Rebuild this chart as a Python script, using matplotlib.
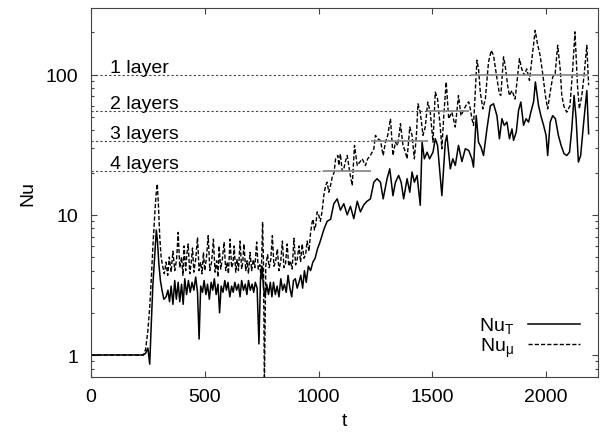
import numpy as np
import matplotlib
matplotlib.use("Agg")
import matplotlib.pyplot as plt

plt.rcParams["font.family"] = ["Liberation Sans", "DejaVu Sans"]
plt.rcParams["mathtext.fontset"] = "custom"
plt.rcParams["mathtext.rm"] = "Liberation Sans"
plt.rcParams["font.size"] = 14

# --- Nu_T (solid) ---
t_T = [0, 230, 240, 250, 258, 265, 272, 280, 287, 292, 298, 305, 312, 320, 330, 338, 345, 352,
       360, 368, 375, 383, 390, 398, 405, 412, 420, 428, 436, 444, 452, 460, 468, 475, 482, 490,
       497, 505, 512, 520, 528, 535, 542, 550, 558, 565, 572, 580, 588, 595, 602, 610, 618, 625,
       632, 640, 648, 655, 662, 670, 678, 685, 692, 700, 708, 715, 722, 730, 738, 745, 752, 758,
       765, 772, 780, 788, 795, 802, 810, 818, 826, 834, 842, 850, 858, 866, 874, 882, 890, 898,
       906, 914, 922, 930, 938, 946, 955, 965, 975, 985, 995, 1005, 1015, 1025, 1038, 1053, 1067,
       1082, 1096, 1111, 1126, 1140, 1155, 1170, 1184, 1199, 1213, 1228, 1243, 1257, 1272, 1284,
       1301, 1313, 1327, 1338, 1352, 1363, 1374, 1389, 1401, 1411, 1421, 1433, 1447, 1455, 1465,
       1477, 1488, 1503, 1513, 1523, 1542, 1557, 1564, 1579, 1590, 1601, 1615, 1630, 1645, 1660,
       1674, 1681, 1693, 1703, 1714, 1725, 1740, 1755, 1769, 1784, 1795, 1806, 1816, 1828, 1839,
       1850, 1857, 1869, 1879, 1889, 1901, 1912, 1923, 1933, 1945, 1953, 1967, 1977, 1989, 2000,
       2007, 2018, 2029, 2041, 2054, 2066, 2079, 2091, 2103, 2113, 2123, 2132, 2142, 2152, 2164,
       2179, 2187]
nu_T = [1.0, 1.0, 1.03, 1.12, 0.86, 1.7, 3.2, 5.2, 7.8, 6.5, 4.5, 3.4, 2.9, 2.5, 2.6, 2.9, 2.4, 3.1,
        2.3, 3.4, 2.5, 3.3, 2.4, 3.2, 2.3, 3.5, 2.7, 3.4, 2.8, 3.3, 2.9, 3.6, 2.8, 1.3, 3.1, 2.8,
        3.4, 2.7, 3.2, 2.5, 3.3, 2.9, 3.5, 2.7, 3.2, 2.0, 3.1, 2.8, 3.4, 2.9, 3.3, 2.6, 3.1, 2.8,
        3.3, 2.9, 3.2, 2.6, 3.4, 2.9, 3.2, 2.7, 3.4, 2.9, 3.2, 2.8, 3.3, 3.0, 1.2, 3.6, 4.3, 3.0,
        2.6, 3.2, 2.7, 3.3, 2.6, 3.3, 2.7, 3.1, 2.6, 3.5, 2.9, 3.2, 2.8, 3.7, 3.0, 2.6, 3.4, 3.5,
        3.0, 3.3, 3.7, 3.0, 4.0, 3.3, 4.3, 4.0, 4.6, 4.9, 5.7, 6.3, 7.1, 8.0, 9.0, 9.3, 12.0,
        13.0, 10.8, 12.0, 10.0, 11.5, 9.4, 12.5, 10.5, 11.8, 12.5, 13.0, 17.1, 18.1, 17.1, 13.0,
        18.1, 21.3, 13.7, 17.1, 19.1, 17.1, 13.0, 18.1, 14.5, 20.2, 17.1, 19.1, 11.7, 33.0, 25.1,
        28.0, 25.1, 28.0, 35.0, 31.3, 13.7, 33.0, 36.9, 21.3, 25.1, 22.5, 31.3, 24.0, 29.6, 28.8,
        25.1, 21.9, 51.0, 33.0, 30.4, 26.5, 41.0, 60.0, 62.0, 51.0, 34.9, 48.5, 43.5, 45.9, 34.9,
        41.0, 34.0, 39.0, 55.6, 63.8, 43.5, 48.5, 45.9, 54.0, 64.0, 88.7, 60.0, 51.0, 43.5, 36.9,
        26.5, 45.9, 51.0, 48.5, 36.9, 31.3, 27.3, 26.5, 28.0, 41.0, 71.0, 48.5, 23.8, 26.5, 43.5,
        77.0, 37.9]

# --- Nu_mu (dashed) ---
t_mu = [0, 230, 240, 250, 258, 265, 272, 280, 286, 291, 296, 302, 308, 315, 322, 330, 337, 344,
        352, 360, 368, 376, 383, 390, 398, 404, 409, 416, 421, 427, 434, 440, 446, 452, 460, 468,
        475, 482, 488, 494, 500, 507, 515, 522, 530, 538, 545, 552, 558, 563, 570, 577, 585, 592,
        598, 604, 611, 618, 624, 629, 636, 642, 648, 655, 662, 667, 672, 680, 686, 692, 699, 706,
        713, 720, 728, 735, 742, 748, 754, 758, 762, 768, 776, 783, 790, 797, 804, 811, 819, 826,
        834, 841, 848, 855, 862, 869, 876, 884, 892, 899, 906, 914, 921, 928, 936, 943, 950, 958,
        965, 972, 976, 982, 987, 994, 1001, 1008, 1016, 1023, 1031, 1038, 1045, 1052, 1060, 1068,
        1075, 1085, 1089, 1096, 1104, 1111, 1118, 1126, 1137, 1148, 1158, 1170, 1181, 1192, 1206,
        1216, 1228, 1243, 1250, 1260, 1272, 1284, 1294, 1304, 1316, 1327, 1338, 1348, 1360, 1371,
        1382, 1389, 1401, 1411, 1421, 1430, 1437, 1447, 1459, 1469, 1480, 1491, 1503, 1513, 1523,
        1535, 1542, 1550, 1561, 1572, 1586, 1601, 1615, 1626, 1640, 1652, 1660, 1667, 1674, 1681,
        1696, 1703, 1711, 1722, 1733, 1747, 1759, 1769, 1784, 1795, 1801, 1813, 1820, 1831, 1839,
        1850, 1864, 1883, 1893, 1904, 1915, 1927, 1937, 1952, 1962, 1974, 1986, 1997, 2007, 2018,
        2029, 2040, 2051, 2062, 2069, 2079, 2091, 2105, 2117, 2127, 2138, 2146, 2157, 2167, 2179,
        2187]
nu_mu = [1.0, 1.0, 1.1, 1.5, 2.2, 3.5, 6.0, 10.0, 14.0, 16.6, 12.0, 7.0, 5.0, 4.3, 3.8, 4.6, 3.7, 5.0,
         3.9, 5.5, 4.0, 4.8, 7.5, 4.2, 5.0, 3.7, 6.0, 4.0, 5.2, 6.2, 3.8, 4.5, 5.8, 3.9, 4.8, 6.9,
         4.0, 4.6, 3.8, 5.4, 4.0, 4.9, 7.1, 4.0, 4.6, 6.7, 3.9, 4.7, 3.6, 6.0, 4.1, 4.8, 6.4, 4.0,
         4.6, 3.8, 6.7, 4.2, 4.5, 6.0, 3.9, 4.8, 4.0, 6.5, 4.1, 4.6, 6.2, 4.0, 4.7, 3.8, 5.4, 4.0,
         4.8, 4.2, 6.4, 4.1, 4.4, 3.5, 8.9, 4.5, 0.6, 4.3, 5.2, 4.2, 4.8, 7.1, 4.3, 4.6, 5.7, 4.0,
         4.7, 6.5, 4.2, 4.5, 6.2, 4.3, 4.7, 4.1, 6.8, 4.4, 4.8, 6.0, 4.6, 6.2, 4.9, 5.2, 6.5, 5.5,
         7.5, 8.9, 9.3, 7.8, 8.3, 10.5, 9.9, 9.0, 10.7, 13.7, 16.2, 17.1, 14.5, 16.0, 18.6, 20.0,
         25.1, 26.5, 22.5, 27.2, 20.5, 21.3, 24.0, 26.5, 20.2, 16.2, 31.3, 22.5, 23.8, 25.1, 22.5,
         25.1, 26.5, 29.6, 36.9, 34.9, 34.0, 26.5, 33.0, 36.9, 48.5, 26.5, 33.0, 31.3, 44.7, 31.3,
         28.0, 25.1, 42.3, 36.9, 25.1, 36.9, 62.0, 54.0, 36.9, 42.3, 63.8, 54.0, 33.0, 75.0, 67.0,
         42.3, 29.6, 50.0, 88.7, 48.5, 54.0, 42.3, 71.0, 51.0, 57.0, 62.0, 64.0, 57.0, 48.5, 43.5,
         127.0, 110.0, 75.0, 57.0, 67.0, 123.0, 149.0, 137.0, 94.0, 73.0, 71.0, 134.0, 117.0, 84.0, 71.0,
         77.0, 67.0, 130.0, 110.0, 99.0, 110.0, 91.0, 127.0, 207.0, 166.0, 137.0, 99.0, 71.0, 57.0, 75.0,
         96.0, 102.0, 162.0, 110.0, 71.0, 59.0, 54.0, 60.0, 110.0, 202.0, 84.0, 57.0, 71.0, 99.0, 162.0,
         84.0]

# --- layer levels and fit windows ---
layer_labels = ["1 layer", "2 layers", "3 layers", "4 layers"]
layer_nu = [100.0, 54.7, 33.4, 20.5]
layer_t0 = [1670, 1480, 1230, 1020]
layer_t1 = [2185, 1660, 1480, 1230]

fig = plt.figure(figsize=(6.04, 4.39), dpi=100)
ax = fig.add_axes([0.1507, 0.139, 0.8393, 0.8405])

ax.plot(t_T, nu_T, color="black", lw=1.1, label=r"Nu$_{\mathrm{T}}$", zorder=2)
ax.plot(t_mu, nu_mu, color="black", lw=1.0, dashes=(3, 1.5), label=r"Nu$_{\mathrm{μ}}$", zorder=2)

for lab, lev, a, b in zip(layer_labels, layer_nu, layer_t0, layer_t1):
    ax.hlines(lev, 0, a, colors="#444444", linestyles=(0, (2, 2)), lw=0.8, zorder=3)
    ax.hlines(lev, a, b, colors="#8a8a8a", lw=1.3, zorder=3)
    ax.text(85, lev * 1.05, lab, va="baseline", ha="left")

ax.set_yscale("log")
ax.set_xlim(0, 2228)
ax.set_ylim(0.697, 299)
ax.set_xticks([0, 500, 1000, 1500, 2000])
ax.set_yticks([1, 10, 100])
ax.set_yticklabels(["1", "10", "100"])
ax.yaxis.set_minor_locator(matplotlib.ticker.LogLocator(base=10, subs=np.arange(2, 10)))
ax.yaxis.set_minor_formatter(matplotlib.ticker.NullFormatter())

ax.tick_params(which="both", direction="in", top=True, right=True, color="#444444")
ax.tick_params(which="major", length=4.5, width=0.8)
ax.tick_params(which="minor", length=2.5, width=0.8)
ax.tick_params(axis="x", pad=8)
ax.tick_params(axis="y", pad=9)
for s in ax.spines.values():
    s.set_color("#444444")
    s.set_linewidth(0.8)

ax.set_xlabel("t", labelpad=5)
ax.set_ylabel("Nu", labelpad=7)

ax.legend(loc="lower right", frameon=False, markerfirst=False, handlelength=2.7,
          labelspacing=0.0, borderaxespad=0.5, handletextpad=0.7)

fig.savefig("out.png", dpi=100)
